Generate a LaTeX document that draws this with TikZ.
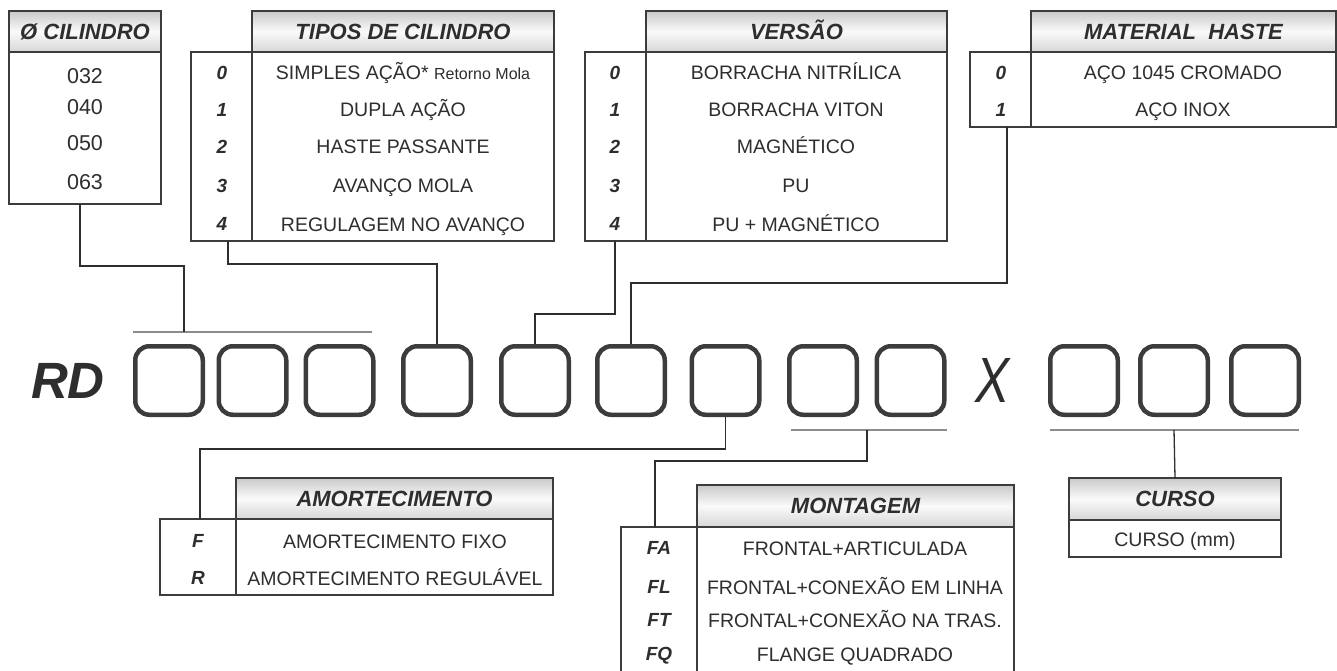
\documentclass[tikz,border=0pt]{standalone}
\usepackage{fontspec}
\setmainfont{Liberation Sans}
\newfontfamily\xfont[FakeStretch=0.8]{Liberation Sans}
\usetikzlibrary{positioning,calc}

\definecolor{inkc}{HTML}{2E2E2E}
\definecolor{linec}{HTML}{3C3C3C}
\definecolor{barc}{HTML}{8C8C8C}

\newcommand{\hdrfont}{\fontsize{22}{26}\selectfont\bfseries\itshape}
\newcommand{\tabfont}{\fontsize{19.5}{23}\selectfont}
\newcommand{\codefont}{\fontsize{19}{23}\selectfont\bfseries\itshape}
\newcommand{\cilfont}{\fontsize{21.5}{25}\selectfont}

\tikzset{
  hdr/.style={draw=linec, line width=1.4pt, anchor=north west, inner sep=0pt, outer sep=0pt,
    top color=gray!42, bottom color=gray!32, middle color=gray!4, font=\hdrfont, text=inkc,
    text height=15.8pt, text depth=0pt},
  tbody/.style={draw=linec, line width=1.4pt, anchor=north west, inner sep=0pt, outer sep=0pt, fill=white},
  sep/.style={draw=linec, line width=1.4pt},
  codetxt/.style={font=\codefont, text=inkc, text height=13.6pt, text depth=0pt},
  itemtxt/.style={font=\tabfont, text=inkc, text height=14pt, text depth=0pt},
  cilnum/.style={font=\cilfont, text=inkc, text height=15.4pt, text depth=0pt},
  digit/.style={draw=linec, line width=4.5pt, rounded corners=14pt, minimum width=67.5pt,
    minimum height=68.5pt, inner sep=0pt},
  conn/.style={draw=inkc, line width=1.3pt},
  bar/.style={draw=barc, line width=1.6pt},
}

\begin{document}
\begin{tikzpicture}[x=1pt, y=-1pt]
\useasboundingbox (0,0) rectangle (1337,671);

% Diameter table
\node[tbody, minimum width=152pt, minimum height=152pt] (bcil) at (9,52) {};
\node[hdr, minimum width=152pt, minimum height=41pt] (hcil) at (9,11) {Ø CILINDRO};
\foreach \v/\y in {032/76, 040/107, 050/143, 063/182}
  \node[cilnum] (cil-\v) at (85,\y) {\v};

% Cylinder types
\node[tbody, minimum width=363pt, minimum height=189pt] (btipos) at (191,52) {};
\node[hdr, minimum width=302pt, minimum height=41pt] (htipos) at (252,11) {TIPOS DE CILINDRO};
\draw[sep] (htipos.south west) -- (htipos.south west |- btipos.south);
\foreach \c/\t/\y in {0/{SIMPLES AÇÃO* {\fontsize{16}{18}\selectfont Retorno Mola}}/73,
    1/DUPLA AÇÃO/110, 2/HASTE PASSANTE/147, 3/AVANÇO MOLA/186, 4/REGULAGEM NO AVANÇO/224} {
  \node[codetxt] (tipos-c\c) at (222,\y) {\c};
  \node[itemtxt] (tipos-t\c) at (403,\y) {\t};
}

% Version
\node[tbody, minimum width=362pt, minimum height=189pt] (bvers) at (585,52) {};
\node[hdr, minimum width=301pt, minimum height=41pt] (hvers) at (646,11) {VERSÃO};
\draw[sep] (hvers.south west) -- (hvers.south west |- bvers.south);
\foreach \c/\t/\y in {0/BORRACHA NITRÍLICA/73, 1/BORRACHA VITON/110, 2/MAGNÉTICO/147,
    3/PU/186, 4/PU + MAGNÉTICO/224} {
  \node[codetxt] (vers-c\c) at (615,\y) {\c};
  \node[itemtxt] (vers-t\c) at (796,\y) {\t};
}

% Rod material
\node[tbody, minimum width=366pt, minimum height=75pt] (bmat) at (970,52) {};
\node[hdr, minimum width=305pt, minimum height=41pt] (hmat) at (1031,11) {MATERIAL~ HASTE};
\draw[sep] (hmat.south west) -- (hmat.south west |- bmat.south);
\foreach \c/\t/\y in {0/AÇO 1045 CROMADO/73, 1/AÇO INOX/110} {
  \node[codetxt] (mat-c\c) at (1001,\y) {\c};
  \node[itemtxt] (mat-t\c) at (1183,\y) {\t};
}

% Code boxes
\node[font=\fontsize{51}{51}\selectfont\bfseries\itshape, text=inkc] (rd) at (68,381) {RD};
\foreach \n/\x in {1/169, 2/252.5, 3/339.5, 4/437, 5/535, 6/631, 7/725.5, 8/823, 9/910.5,
    10/1084, 11/1174, 12/1265}
  \node[digit] (d\n) at (\x,380.5) {};
\node[font=\fontsize{64}{64}\xfont\itshape, text=inkc] (xsep) at (993,380) {X};

% Brackets
\coordinate (bar1) at (184,332);
\coordinate (bar2) at (867,430);
\coordinate (bar3) at (1174,430);
\draw[bar] (d1.west |- bar1) -- ([xshift=-4pt]d3.east |- bar1);
\draw[bar] ([xshift=4pt]d8.west |- bar2) -- (d9.east |- bar2);
\draw[bar] ([xshift=2pt]d10.west |- bar3) -- ([xshift=-2pt]d12.east |- bar3);

% Cushioning
\node[tbody, minimum width=393pt, minimum height=76pt] (bamort) at (160,519) {};
\node[hdr, minimum width=317pt, minimum height=41pt] (hamort) at (236,478) {AMORTECIMENTO};
\draw[sep] (hamort.south west) -- (hamort.south west |- bamort.south);
\foreach \c/\t/\y in {F/AMORTECIMENTO FIXO/541, R/AMORTECIMENTO REGULÁVEL/578} {
  \node[codetxt] (amort-c\c) at (198,\y) {\c};
  \node[itemtxt] (amort-t\c) at (395,\y) {\t};
}

% Mounting
\node[tbody, minimum width=393pt, minimum height=150pt] (bmont) at (621,527) {};
\node[hdr, minimum width=317pt, minimum height=42pt] (hmont) at (697,485) {MONTAGEM};
\draw[sep] (hmont.south west) -- (hmont.south west |- bmont.south);
\foreach \c/\t/\y in {FA/FRONTAL+ARTICULADA/548, FL/FRONTAL+CONEXÃO EM LINHA/587,
    FT/FRONTAL+CONEXÃO NA TRAS./620, FQ/FLANGE QUADRADO/654} {
  \node[codetxt] (mont-c\c) at (659,\y) {\c};
  \node[itemtxt] (mont-t\c) at (855,\y) {\t};
}

% Stroke
\node[tbody, minimum width=212pt, minimum height=37pt] (bcurso) at (1069,520) {};
\node[hdr, minimum width=212pt, minimum height=42pt] (hcurso) at (1069,478) {CURSO};
\node[itemtxt] (curso-t) at (1175,539) {CURSO (mm)};

% Connectors
\draw[conn] ([xshift=-5pt]bcil.south) -- ++(0,62) -| (bar1);
\draw[conn] ([xshift=37pt]btipos.south west) -- ++(0,23) -| (d4.north);
\draw[conn] ([xshift=30pt]bvers.south west) -- ++(0,73) -| (d5.north);
\draw[conn] ([xshift=37pt]bmat.south west) -- ++(0,156) -| (d6.north);
\draw[conn] (d7.south) -- ++(0,32) -| ([xshift=40pt]bamort.north west);
\draw[conn] (bar2) -- ++(0,31) -| ([xshift=34pt]bmont.north west);
\draw[conn] (bar3) -- (hcurso.north);
\end{tikzpicture}
\end{document}
